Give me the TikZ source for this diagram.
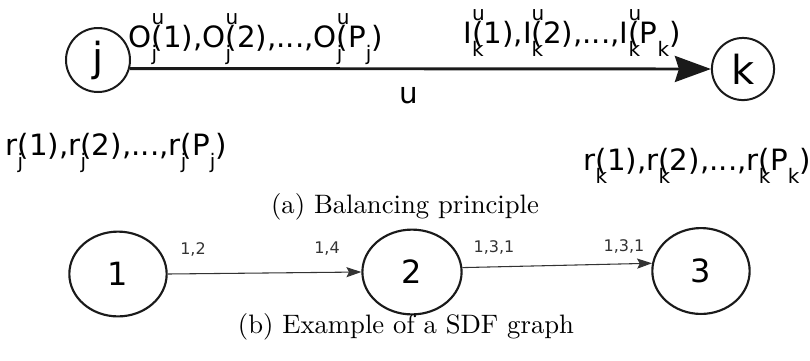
\documentclass[tikz,border=0pt]{standalone}
\usepackage{fontspec}
\setsansfont{DejaVu Sans}
\usepackage{tikz}
\usetikzlibrary{arrows.meta,positioning,shapes.geometric}
\definecolor{ink}{HTML}{1A1A1A}
\definecolor{soft}{HTML}{333333}
\newcommand{\tinyscr}[1]{{\fontsize{7.5}{8}\selectfont #1}}
\newcommand{\updn}[3]{#1\rlap{\raisebox{8.3pt}{\tinyscr{#2}}}\rlap{\raisebox{-5pt}{\tinyscr{#3}}}}
\newcommand{\lowsub}[2]{#1\rlap{\raisebox{-5pt}{\tinyscr{#2}}}}
\tikzset{
  vert/.style={circle,draw=ink,line width=0.75pt,inner sep=0pt,minimum size=24pt,font=\sffamily\fontsize{15}{16}\selectfont},
  blob/.style={ellipse,draw=ink,line width=0.8pt,inner sep=0pt,minimum width=36.5pt,minimum height=31.8pt,font=\sffamily\fontsize{12}{13}\selectfont},
  lbl/.style={inner sep=0pt,anchor=base west,font=\sffamily\fontsize{11}{12}\selectfont},
  rate/.style={inner sep=0pt,text=soft,font=\sffamily\fontsize{6}{7}\selectfont},
  capt/.style={inner sep=0pt,font=\normalsize},
  bigarr/.style={-{Stealth[length=13.5pt,width=9.75pt,inset=1.5pt]},line width=1.1pt,color=ink},
  thinarr/.style={-{Stealth[length=5.6pt,width=3.8pt,inset=1pt]},line width=0.4pt,color=soft}
}
\begin{document}
\begin{tikzpicture}[x=0.375pt,y=-0.375pt]
  \useasboundingbox (0,0) rectangle (810,360);
  % (a) balancing principle
  \node[vert] (j) at (98,60) {j};
  \node[vert,minimum size=23.3pt] (k) at (743,69) {k};
  \draw[bigarr] (j.-15) -- (k.west);
  \node[lbl] (outj) at (128,47) {\updn{O}{u}{j}(1),\updn{O}{u}{j}(2),...,\updn{O}{u}{j}(P\raisebox{-5pt}{\tinyscr{j}})};
  \node[lbl] (ink) at (463,43) {\updn{I}{u}{k}(1),\updn{I}{u}{k}(2),...,\updn{I}{u}{k}(P\raisebox{-5pt}{\tinyscr{k}})};
  \node[inner sep=0pt,font=\sffamily\fontsize{11}{12}\selectfont] (u) at (409,95) {u};
  \node[lbl] (rj) at (5,155) {\lowsub{r}{j}(1),\lowsub{r}{j}(2),...,\lowsub{r}{j}(P\raisebox{-5pt}{\tinyscr{j}})};
  \node[lbl] (rk) at (583,170) {\lowsub{r}{k}(1),\lowsub{r}{k}(2),...,\lowsub{r}{k}(P\raisebox{-5pt}{\tinyscr{k}})};
  \node[capt] (capa) at (405,207) {(a) Balancing principle};
  % (b) SDF graph
  \node[blob] (n1) at (118,274) {1};
  \node[blob,minimum width=37.2pt] (n2) at (412,272) {2};
  \node[blob,minimum height=32.2pt] (n3) at (701,271) {3};
  \draw[thinarr] (n1.east) -- (n2.west);
  \draw[thinarr] (n2.5) -- (n3.171);
  \node[rate] (r12) at (193,249) {1,2};
  \node[rate] (r21) at (327,249) {1,4};
  \node[rate] (r23) at (494,247) {1,3,1};
  \node[rate] (r32) at (624,246) {1,3,1};
  \node[capt] (capb) at (406,327) {(b) Example of a SDF graph};
\end{tikzpicture}
\end{document}
